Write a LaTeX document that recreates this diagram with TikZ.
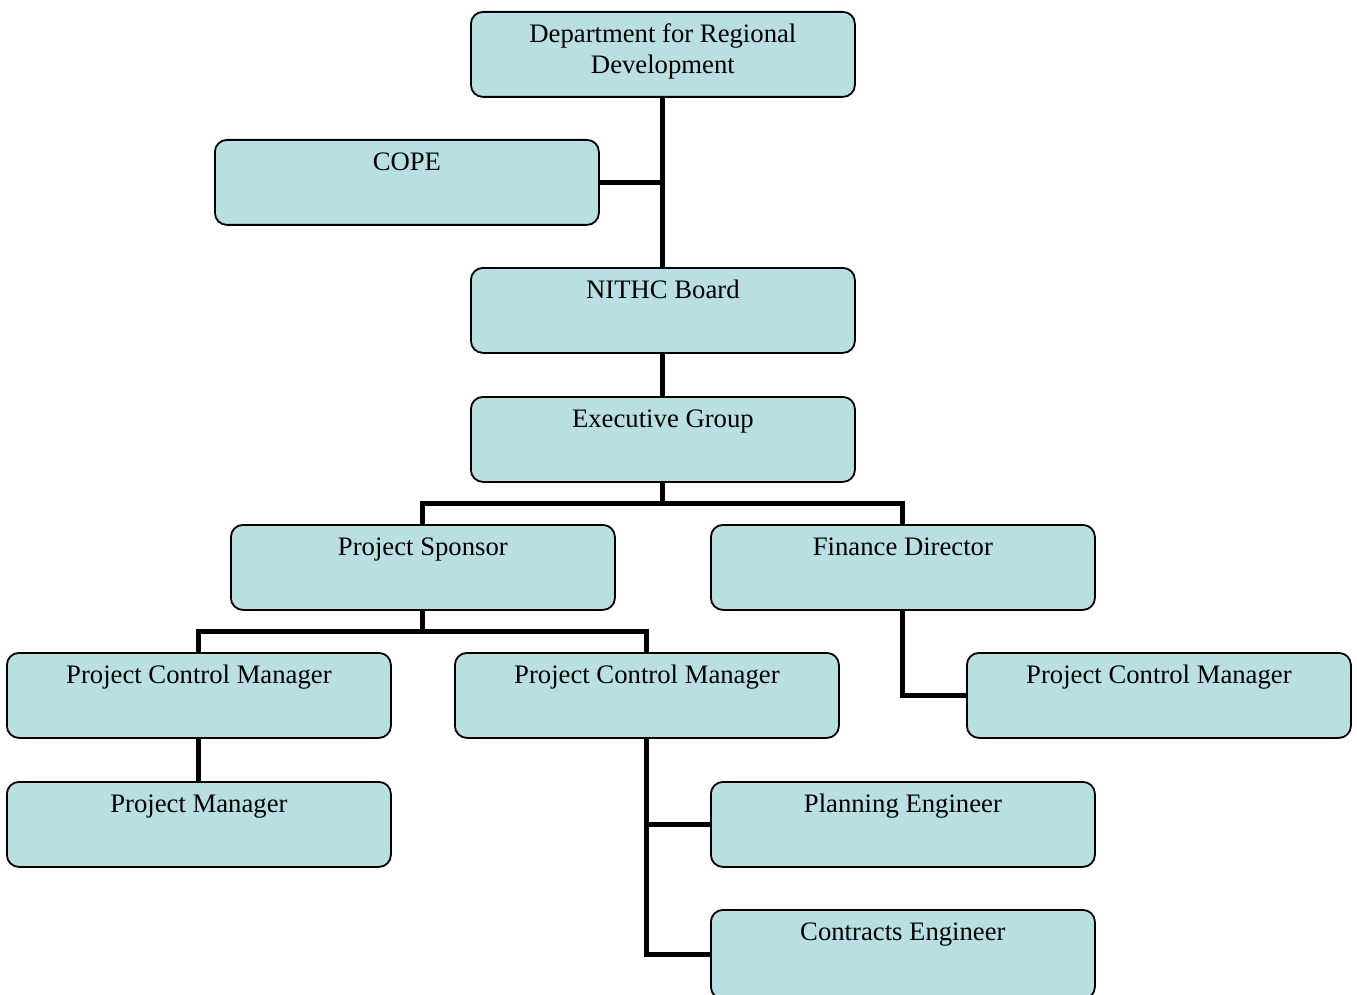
\documentclass[tikz,border=0pt]{standalone}
\usepackage{fontspec}
\setmainfont{Liberation Serif}
\definecolor{boxfill}{HTML}{B9DFE2}
\begin{document}
\begin{tikzpicture}[x=1pt,y=-1pt,
  orgbox/.style={draw=black, line width=1.8pt, fill=boxfill, rounded corners=12pt,
    inner sep=0pt, anchor=north west, text height=31pt, text depth=54pt,
    font=\fontsize{26.7}{31}\selectfont},
  link/.style={line width=5pt, line join=miter, draw=black}]
\useasboundingbox (0,0) rectangle (1357,995);
\newcommand{\boxtext}[1]{\parbox[t]{384pt}{\centering #1}}
\node[orgbox] (dept) at (470,11) {\boxtext{Department for Regional\\Development}};
\node[orgbox] (cope) at (214,139) {\boxtext{COPE}};
\node[orgbox] (nithc) at (470,267) {\boxtext{NITHC Board}};
\node[orgbox] (exec) at (470,396) {\boxtext{Executive Group}};
\node[orgbox] (sponsor) at (230,524) {\boxtext{Project Sponsor}};
\node[orgbox] (finance) at (710,524) {\boxtext{Finance Director}};
\node[orgbox] (pcma) at (6,652) {\boxtext{Project Control Manager}};
\node[orgbox] (pcmb) at (454,652) {\boxtext{Project Control Manager}};
\node[orgbox] (pcmc) at (966,652) {\boxtext{Project Control Manager}};
\node[orgbox] (pm) at (6,781) {\boxtext{Project Manager}};
\node[orgbox] (plan) at (710,781) {\boxtext{Planning Engineer}};
\node[orgbox, text depth=58pt] (contr) at (710,909) {\boxtext{Contracts Engineer}};
\draw[link] (dept.south) -- (nithc.north);
\draw[link] (cope.east) -- (cope.east -| dept.south);
\draw[link] (nithc.south) -- (exec.north);
\coordinate (ej) at ([yshift=-21pt]exec.south);
\draw[link] (exec.south) -- (ej);
\draw[link] (sponsor.north) |- (ej) -| (finance.north);
\coordinate (sj) at ([yshift=-21pt]sponsor.south);
\draw[link] (sponsor.south) -- (sj);
\draw[link] (pcma.north) |- (sj) -| (pcmb.north);
\draw[link] (finance.south) |- (pcmc.west);
\draw[link] (pcma.south) -- (pm.north);
\draw[link] (pcmb.south) |- (plan.west);
\draw[link] (pcmb.south) |- (contr.west);
\end{tikzpicture}
\end{document}
